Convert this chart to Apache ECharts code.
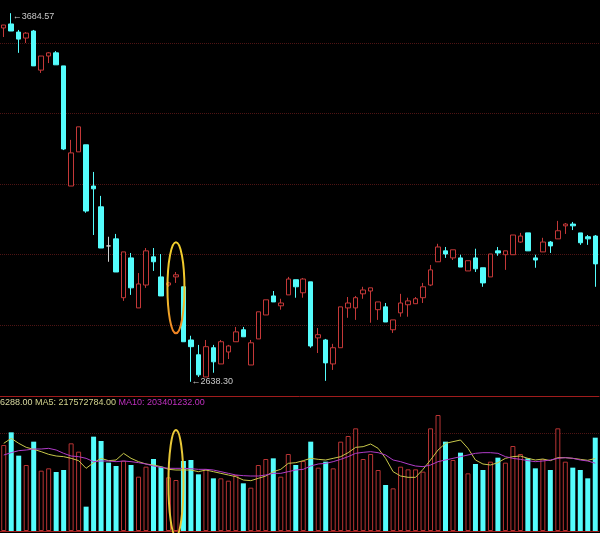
<!DOCTYPE html>
<html>
<head>
<meta charset="utf-8">
<script src="https://cdn.jsdelivr.net/npm/echarts@6/dist/echarts.min.js"></script>
<style>
html,body{margin:0;padding:0;background:#000;}
#c{width:600px;height:533px;}
</style>
</head>
<body>
<div id="c"></div>
<script>
// OHLC
var opens  = [3642.6,3654,3631,3614,3634,3523,3563,3572,3535,3194,3291,3311,3194,3135,3024,3044,2877,2990,2848,2913,
              2993,2936,2913,2936,2908,2757,2715,2652,2735,2689,2723,2752,2786,2686,2760,2828,2882,2854,2885,2928,
              2891,2922,2763,2757,2689,2735,2848,2848,2888,2896,2843,2851,2786,2834,2857,2860,2877,2913,2979,3010,
              2990,2990,2953,2990,2962,2936,3010,2999,2999,3035,3061,2990,3007,3035,3044,3081,3086,3061,3050,3052];
var closes = [3651,3634,3611,3628,3535,3563,3572,3538,3299,3288,3362,3123,3186,3018,3024,2950,3007,2905,2916,3010,
              2979,2882,2919,2942,2752,2738,2658,2738,2695,2752,2740,2780,2766,2749,2837,2871,2865,2862,2930,2908,
              2930,2740,2772,2692,2735,2851,2862,2877,2899,2905,2865,2808,2814,2862,2868,2874,2908,2956,3021,3001,
              3013,2964,2982,2959,2919,3001,3004,3010,3055,3052,3010,2984,3035,3024,3067,3086,3081,3033,3044,2973];
var lows   = [3617,3634,3572,3600,3535,3515,3543,3538,3296,3194,3291,3118,3055,3018,2979,2950,2868,2885,2848,2905,
              2953,2882,2908,2919,2752,2638.30,2652,2652,2664,2689,2703,2752,2766,2686,2760,2828,2865,2843,2885,2877,
              2877,2735,2720,2641,2672,2735,2820,2814,2874,2806,2814,2808,2777,2823,2823,2860,2862,2910,2979,2990,
              2984,2964,2953,2950,2908,2936,2996,2956,2999,3033,3010,2962,3007,3004,3044,3058,3069,3027,3027,2908];
var highs  = [3651,3684.57,3637,3631,3637,3563,3574,3577,3535,3325,3362,3311,3234,3166,3050,3058,3007,3004,2947,3018,
              3018,3001,2922,2950,2908,2769,2743,2757,2743,2757,2743,2794,2794,2757,2837,2871,2896,2874,2936,2928,
              2933,2922,2791,2760,2746,2851,2879,2882,2908,2905,2865,2862,2814,2888,2877,2879,2919,2970,3030,3021,
              3013,2999,2982,3016,2962,3001,3021,3010,3055,3061,3061,2999,3047,3038,3095,3089,3092,3061,3055,3055];
// volume (millions)
var volumes = [258,296,226,198,268,181,188,177,183,263,238,73,283,270,205,195,211,198,163,193,
               216,193,161,153,210,213,170,185,158,158,151,168,143,130,198,216,218,163,231,198,
               210,268,190,208,188,268,285,308,216,231,183,138,128,193,185,185,178,308,348,268,
               213,235,173,201,183,208,220,205,255,231,218,188,215,183,308,208,190,183,158,280];
var ma5 = [263,278,263,251,245,238,230,225,223,218,211,188,205,218,211,213,233,218,208,201,
           198,193,185,183,183,183,178,183,178,173,168,163,153,151,158,165,178,185,203,205,
           211,218,215,213,218,223,235,251,253,261,248,218,178,165,161,161,185,213,243,263,
           268,273,248,213,201,198,205,218,223,225,218,213,216,211,220,220,218,215,212,217.6];
var ma10 = [228,235,241,243,246,246,248,243,233,225,223,218,208,210,210,208,210,208,205,201,
            195,191,188,188,188,187,185,185,183,178,173,168,166,165,165,168,173,173,178,183,
            185,195,201,203,208,215,223,233,236,238,235,228,213,208,201,195,193,198,208,213,
            218,223,228,233,235,235,233,223,218,215,211,208,210,213,218,220,218,213,210,203.4];
var priceGridLevels = [3600,3400,3200,3000,2800];
var volGridLevel = 294;
var legendTexts = ['6288.00', 'MA5: 217572784.00', 'MA10: 203401232.00'];

var cats = opens.map(function(_, i){ return String(i); });
var kdata = opens.map(function(o, i){ return [o, closes[i], lows[i], highs[i]]; });
var UP = '#c43838', DOWN = '#54fcfc';
var vdata = volumes.map(function(v, i){
  var up = closes[i] > opens[i];
  return {value: v, itemStyle: up ? {color:'#000', borderColor: '#b83434', borderWidth: 1} : {color: DOWN, borderWidth: 0}};
});
var hiIdx = highs.indexOf(Math.max.apply(null, highs));
var loIdx = lows.indexOf(Math.min.apply(null, lows));

var chart = echarts.init(document.getElementById('c'));
var gridLineStyle = {color:'#4e1414', type:[1,1], width:1};
chart.setOption({
  backgroundColor: '#000',
  animation: false,
  grid: [
    {left: -1, right: 1, top: 0, height: 396},
    {left: -1, right: 1, top: 397, height: 134}
  ],
  xAxis: [
    {type:'category', gridIndex:0, data:cats, boundaryGap:true,
     axisLine:{show:true, lineStyle:{color:'#a01c1c', width:1}}, axisTick:{show:false}, axisLabel:{show:false}, splitLine:{show:false}},
    {type:'category', gridIndex:1, data:cats, boundaryGap:true,
     axisLine:{show:true, lineStyle:{color:'#a01c1c', width:1}}, axisTick:{show:false}, axisLabel:{show:false}, splitLine:{show:false}}
  ],
  yAxis: [
    {type:'value', gridIndex:0, min:2598, max:3722, show:false, splitLine:{show:false}},
    {type:'value', gridIndex:1, min:0, max:402, show:false, splitLine:{show:false}}
  ],
  series: [
    {type:'line', xAxisIndex:0, yAxisIndex:0, data:[], z:0, silent:true,
     markLine:{z:0, silent:true, symbol:['none','none'], label:{show:false}, lineStyle:gridLineStyle,
       data: priceGridLevels.map(function(v){ return {yAxis:v}; })}},
    {type:'line', xAxisIndex:1, yAxisIndex:1, data:[], z:0, silent:true,
     markLine:{z:0, silent:true, symbol:['none','none'], label:{show:false}, lineStyle:gridLineStyle,
       data:[{yAxis: volGridLevel}]}},
    {type:'candlestick', xAxisIndex:0, yAxisIndex:0, data:kdata, barWidth:5, z:3,
     itemStyle:{color:'#000', color0:DOWN, borderColor:UP, borderColor0:DOWN, borderColorDoji:'#d0d0d0', borderWidth:1},
     markPoint:{silent:true, symbol:'circle', symbolSize:1, itemStyle:{color:'rgba(0,0,0,0)'},
       label:{show:true, position:'right', distance:1, color:'#c8c8c8', fontSize:9, fontFamily:'Liberation Sans, Arial, sans-serif'},
       data:[
         {coord:[hiIdx, highs[hiIdx]], label:{formatter:'\u2190' + highs[hiIdx].toFixed(2), offset:[0,3]}},
         {coord:[loIdx, lows[loIdx]], label:{formatter:'\u2190' + lows[loIdx].toFixed(2), offset:[-1,0]}}
       ]}
    },
    {type:'bar', xAxisIndex:1, yAxisIndex:1, data:vdata, barWidth:5, z:3},
    {type:'line', xAxisIndex:1, yAxisIndex:1, data:ma5, symbol:'none', lineStyle:{color:'#c8c84a', width:1}, z:5},
    {type:'line', xAxisIndex:1, yAxisIndex:1, data:ma10, symbol:'none', lineStyle:{color:'#b03cc8', width:1}, z:5}
  ]
});

var pc = chart.convertToPixel({xAxisIndex:0, yAxisIndex:0}, [23, 2905]);
var vc = chart.convertToPixel({xAxisIndex:1, yAxisIndex:1}, [23, 144]);
chart.setOption({
  graphic: [
    {type:'ellipse', shape:{cx:pc[0], cy:pc[1], rx:8.5, ry:45.5}, z:100,
     style:{fill:'none', lineWidth:2,
       stroke:new echarts.graphic.LinearGradient(1,0,0,1,[{offset:0,color:'#f2d22e'},{offset:0.6,color:'#f0c02c'},{offset:1,color:'#ee7a22'}])}},
    {type:'ellipse', shape:{cx:vc[0], cy:vc[1], rx:7.5, ry:53}, z:100,
     style:{fill:'none', lineWidth:2, stroke:'#e8c838'}},
    {type:'text', left:0, top:398, z:100,
     style:{text:'{a|' + legendTexts[0] + ' }{b|' + legendTexts[1] + ' }{c|' + legendTexts[2] + '}',
       fontSize:9, fontFamily:'Liberation Sans, Arial, sans-serif',
       rich:{a:{fill:'#d8d8a0', fontSize:9}, b:{fill:'#d2d28c', fontSize:9}, c:{fill:'#c030c0', fontSize:9}}}}
  ]
});
</script>
</body>
</html>
